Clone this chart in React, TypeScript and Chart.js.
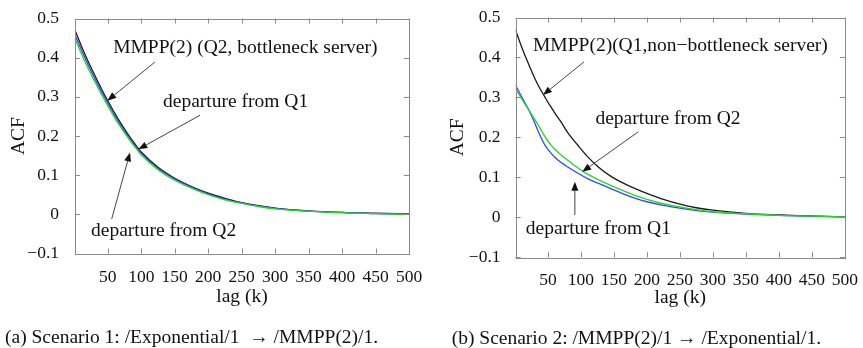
import React, { useEffect, useRef } from "react";
import { Chart, registerables } from "chart.js";

Chart.register(...registerables);

const SERIF = '"Liberation Serif", "Times New Roman", Times, serif';

// ---- Scenario 1: /Exponential/1 -> /MMPP(2)/1 ----
const LEFT_LAGS = [1, 10, 20, 30, 40, 50, 60, 70, 80, 90, 100, 125, 150, 175, 200, 225, 250, 275, 300, 350, 400, 450, 500];
const LEFT_MMPP_Q2 = [0.47, 0.432, 0.393, 0.357, 0.322, 0.29, 0.259, 0.231, 0.205, 0.181, 0.159, 0.12, 0.092, 0.071, 0.054, 0.041, 0.03, 0.022, 0.016, 0.009, 0.005, 0.003, 0.001];
const LEFT_DEP_Q1 = [0.458, 0.422, 0.384, 0.349, 0.315, 0.284, 0.253, 0.226, 0.2, 0.177, 0.155, 0.117, 0.09, 0.069, 0.052, 0.039, 0.029, 0.021, 0.015, 0.008, 0.005, 0.002, 0.001];
const LEFT_DEP_Q2 = [0.448, 0.412, 0.375, 0.341, 0.308, 0.277, 0.247, 0.221, 0.196, 0.173, 0.152, 0.114, 0.087, 0.067, 0.05, 0.037, 0.028, 0.02, 0.014, 0.008, 0.004, 0.002, 0.0];

// ---- Scenario 2: /MMPP(2)/1 -> /Exponential/1 ----
const RIGHT_LAGS = [1, 10, 20, 25, 30, 35, 40, 45, 50, 55, 60, 70, 80, 95, 110, 125, 145, 165, 185, 200, 225, 250, 275, 300, 350, 400, 450, 500];
const RIGHT_MMPP_Q1 = [0.468, 0.427, 0.386, 0.367, 0.348, 0.331, 0.316, 0.302, 0.288, 0.275, 0.262, 0.238, 0.212, 0.181, 0.152, 0.128, 0.103, 0.085, 0.07, 0.06, 0.045, 0.033, 0.024, 0.018, 0.01, 0.006, 0.003, 0.001];
const RIGHT_DEP_Q1 = [0.331, 0.302, 0.272, 0.255, 0.236, 0.216, 0.198, 0.182, 0.17, 0.16, 0.151, 0.137, 0.126, 0.111, 0.097, 0.086, 0.072, 0.058, 0.046, 0.039, 0.03, 0.023, 0.017, 0.013, 0.008, 0.005, 0.003, 0.001];
const RIGHT_DEP_Q2 = [0.322, 0.297, 0.271, 0.258, 0.245, 0.232, 0.217, 0.203, 0.191, 0.18, 0.171, 0.156, 0.143, 0.124, 0.108, 0.095, 0.08, 0.066, 0.053, 0.045, 0.034, 0.026, 0.019, 0.014, 0.009, 0.005, 0.003, 0.001];

const LAG_TICKS = [50, 100, 150, 200, 250, 300, 350, 400, 450, 500];
const ACF_TICKS = [-0.1, 0, 0.1, 0.2, 0.3, 0.4, 0.5];

const BLACK = "#1a1a1a";
const BLUE = "#3347f2";
const GREEN = "#27d627";

type Note = { text: string; lag: number; acf: number };
type Arrow = { from: [number, number]; to: [number, number] };

const LEFT_NOTES: Note[] = [
  { text: "MMPP(2) (Q2, bottleneck server)", lag: 58, acf: 0.424 },
  { text: "departure from Q1", lag: 132.5, acf: 0.287 },
  { text: "departure from Q2", lag: 25, acf: -0.042 },
];
const LEFT_ARROWS: Arrow[] = [
  { from: [120.5, 0.389], to: [49.3, 0.29] },
  { from: [187.8, 0.253], to: [95.6, 0.166] },
  { from: [55.8, -0.012], to: [83.2, 0.158] },
];
const RIGHT_NOTES: Note[] = [
  { text: "MMPP(2)(Q1,non\u2212bottleneck server)", lag: 27.4, acf: 0.428 },
  { text: "departure from Q2", lag: 122, acf: 0.2475 },
  { text: "departure from Q1", lag: 16.5, acf: -0.03 },
];
const RIGHT_ARROWS: Arrow[] = [
  { from: [104.7, 0.389], to: [42.4, 0.306] },
  { from: [186.9, 0.214], to: [102, 0.114] },
  { from: [90.8, 0.006], to: [90.8, 0.089] },
];

function formatAcf(v: number): string {
  if (Math.abs(v) < 1e-9) return "0";
  const s = Math.abs(v).toFixed(1);
  return v < 0 ? "\u2212" + s : s;
}

const decorPlugin = {
  id: "decor",
  afterDatasetsDraw(chart: any, _args: any, opts: any) {
    const { ctx, chartArea: a, scales } = chart;
    const xs = scales.x;
    const ys = scales.y;
    ctx.save();

    // axes box
    ctx.strokeStyle = "#8a8a8a";
    ctx.lineWidth = 1;
    ctx.strokeRect(Math.round(a.left) + 0.5, Math.round(a.top) + 0.5, Math.round(a.right - a.left), Math.round(a.bottom - a.top));

    // inward tick marks on all four sides
    const tl = 5;
    ctx.beginPath();
    for (const v of LAG_TICKS) {
      const px = Math.round(xs.getPixelForValue(v)) + 0.5;
      ctx.moveTo(px, a.bottom);
      ctx.lineTo(px, a.bottom - tl);
      ctx.moveTo(px, a.top);
      ctx.lineTo(px, a.top + tl);
    }
    for (const v of ACF_TICKS) {
      const py = Math.round(ys.getPixelForValue(v)) + 0.5;
      ctx.moveTo(a.left, py);
      ctx.lineTo(a.left + tl, py);
      ctx.moveTo(a.right, py);
      ctx.lineTo(a.right - tl, py);
    }
    ctx.stroke();

    // arrows
    for (const ar of opts.arrows as Arrow[]) {
      const x0 = xs.getPixelForValue(ar.from[0]);
      const y0 = ys.getPixelForValue(ar.from[1]);
      const x1 = xs.getPixelForValue(ar.to[0]);
      const y1 = ys.getPixelForValue(ar.to[1]);
      const ang = Math.atan2(y1 - y0, x1 - x0);
      const hl = 9;
      const hw = 3.5;
      const bx = x1 - hl * Math.cos(ang);
      const by = y1 - hl * Math.sin(ang);
      ctx.strokeStyle = "#444";
      ctx.lineWidth = 1;
      ctx.beginPath();
      ctx.moveTo(x0, y0);
      ctx.lineTo(bx, by);
      ctx.stroke();
      ctx.fillStyle = "#111";
      ctx.beginPath();
      ctx.moveTo(x1, y1);
      ctx.lineTo(bx + hw * Math.sin(ang), by - hw * Math.cos(ang));
      ctx.lineTo(bx - hw * Math.sin(ang), by + hw * Math.cos(ang));
      ctx.closePath();
      ctx.fill();
    }

    // curve labels
    ctx.fillStyle = "#111";
    ctx.font = `19.5px ${SERIF}`;
    ctx.textAlign = "left";
    ctx.textBaseline = "middle";
    for (const n of opts.notes as Note[]) {
      ctx.fillText(n.text, xs.getPixelForValue(n.lag), ys.getPixelForValue(n.acf));
    }

    // sub-figure caption
    ctx.fillText(opts.caption, opts.captionX, opts.captionY);
    ctx.restore();
  },
};

type PanelProps = {
  width: number;
  lags: number[];
  mmpp: number[];
  depQ1: number[];
  depQ2: number[];
  notes: Note[];
  arrows: Arrow[];
  caption: string;
  captionX: number;
  captionY: number;
  area: { left: number; right: number; top: number; bottom: number };
  yTitlePad: number;
  xTitlePad: number;
  yTickPad: number;
};

const HEIGHT = 348;

function Panel(p: PanelProps) {
  const ref = useRef<HTMLCanvasElement | null>(null);
  useEffect(() => {
    if (!ref.current) return;
    const pts = (ys: number[]) => p.lags.map((lag, i) => ({ x: lag, y: ys[i] }));
    const line = (label: string, ys: number[], color: string) => ({
      label,
      data: pts(ys),
      borderColor: color,
      backgroundColor: color,
      borderWidth: 1.3,
      pointRadius: 0,
      cubicInterpolationMode: "monotone" as const,
      fill: false,
    });
    const chart = new Chart(ref.current, {
      type: "line",
      data: {
        datasets: [
          line("departure from Q2", p.depQ2, GREEN),
          line("departure from Q1", p.depQ1, BLUE),
          line("MMPP(2)", p.mmpp, BLACK),
        ],
      },
      options: {
        animation: false,
        responsive: false,
        devicePixelRatio: 1,
        layout: {
          padding: { left: 0, top: p.area.top, right: p.width - p.area.right, bottom: 0 },
        },
        plugins: {
          legend: { display: false },
          tooltip: { enabled: false },
          decor: {
            notes: p.notes,
            arrows: p.arrows,
            caption: p.caption,
            captionX: p.captionX,
            captionY: p.captionY,
          },
        } as any,
        scales: {
          x: {
            type: "linear",
            min: 1,
            max: 500,
            afterBuildTicks: (s: any) => {
              s.ticks = LAG_TICKS.map((v) => ({ value: v }));
            },
            afterFit: (s: any) => {
              s.height = HEIGHT - p.area.bottom;
            },
            grid: { display: false },
            border: { display: false },
            ticks: {
              autoSkip: false,
              maxRotation: 0,
              padding: 5,
              color: "#111",
              font: { family: SERIF, size: 17.5 },
              callback: (v: any) => String(v),
            },
            title: {
              display: true,
              text: "lag (k)",
              color: "#111",
              font: { family: SERIF, size: 19.5 },
              padding: { top: 0, bottom: p.xTitlePad },
            },
          },
          y: {
            type: "linear",
            min: -0.1,
            max: 0.5,
            afterBuildTicks: (s: any) => {
              s.ticks = ACF_TICKS.map((v) => ({ value: v }));
            },
            afterFit: (s: any) => {
              s.width = p.area.left;
            },
            grid: { display: false },
            border: { display: false },
            ticks: {
              autoSkip: false,
              padding: p.yTickPad,
              color: "#111",
              font: { family: SERIF, size: 17.5 },
              callback: (v: any) => formatAcf(Number(v)),
            },
            title: {
              display: true,
              text: "ACF",
              color: "#111",
              font: { family: SERIF, size: 19.5 },
              padding: { top: p.yTitlePad, bottom: 0 },
            },
          },
        },
      },
      plugins: [decorPlugin],
    });
    return () => chart.destroy();
  }, []);
  return <canvas ref={ref} width={p.width} height={HEIGHT} style={{ display: "block", width: p.width, height: HEIGHT }} />;
}

export default function App() {
  return (
    <div style={{ position: "absolute", left: 0, top: 0, width: 863, height: HEIGHT, background: "#fff", display: "flex" }}>
      <Panel
        width={430}
        lags={LEFT_LAGS}
        mmpp={LEFT_MMPP_Q2}
        depQ1={LEFT_DEP_Q1}
        depQ2={LEFT_DEP_Q2}
        notes={LEFT_NOTES}
        arrows={LEFT_ARROWS}
        caption={"(a) Scenario 1: /Exponential/1  \u2192 /MMPP(2)/1."}
        captionX={5}
        captionY={338}
        area={{ left: 75, right: 409, top: 12.6, bottom: 253.5 }}
        yTitlePad={6.8}
        xTitlePad={39.3}
        yTickPad={8}
      />
      <Panel
        width={433}
        lags={RIGHT_LAGS}
        mmpp={RIGHT_MMPP_Q1}
        depQ1={RIGHT_DEP_Q1}
        depQ2={RIGHT_DEP_Q2}
        notes={RIGHT_NOTES}
        arrows={RIGHT_ARROWS}
        caption={"(b) Scenario 2: /MMPP(2)/1 \u2192 /Exponential/1."}
        captionX={21.7}
        captionY={338.5}
        area={{ left: 85.6, right: 419, top: 17.3, bottom: 257.3 }}
        yTitlePad={16.6}
        xTitlePad={38.6}
        yTickPad={7}
      />
    </div>
  );
}
